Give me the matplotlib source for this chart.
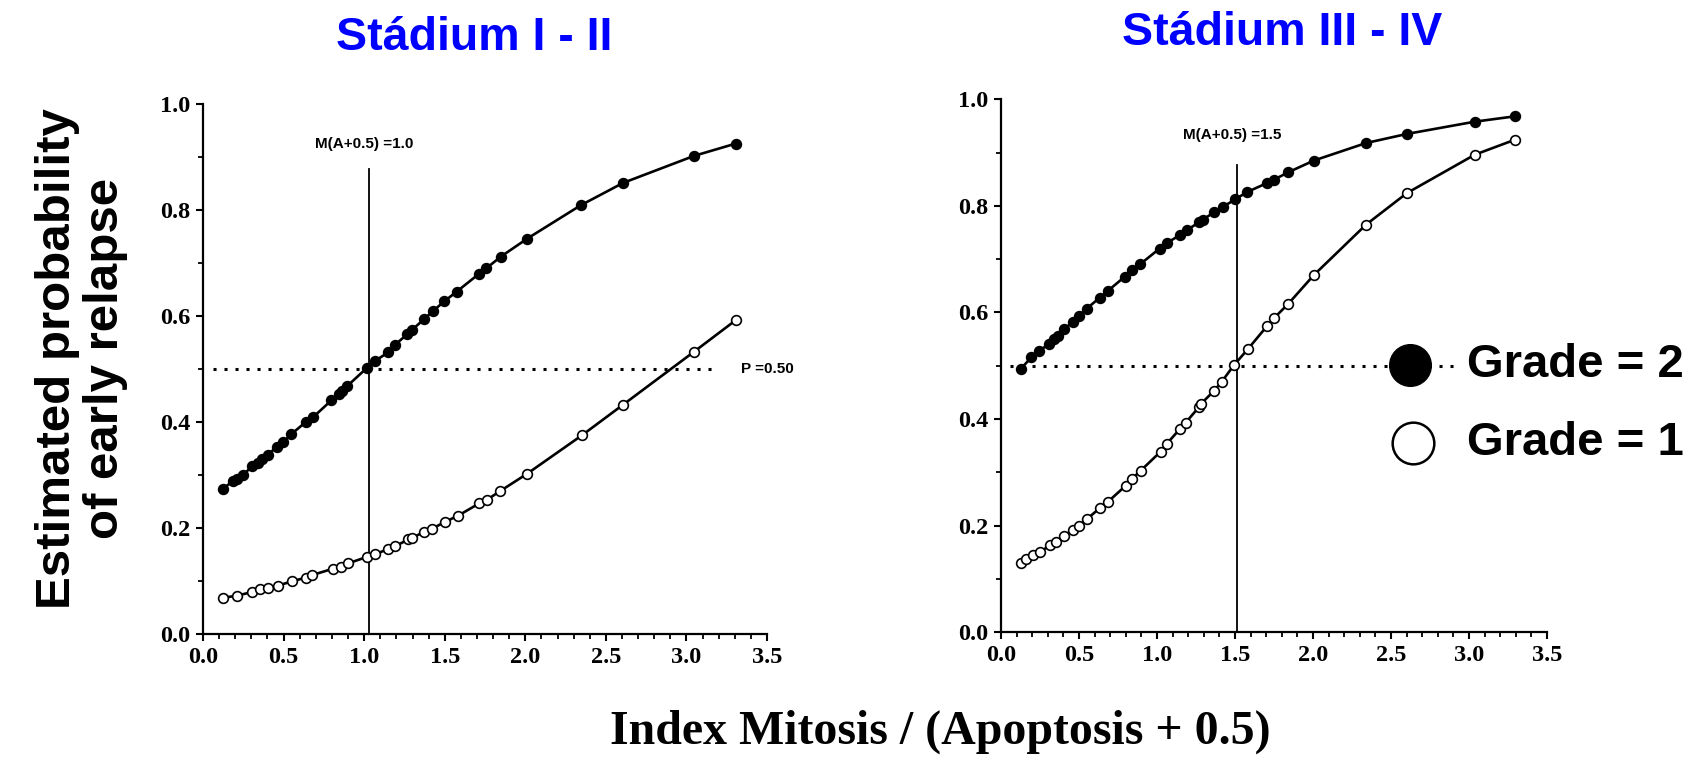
import numpy as np
import matplotlib.pyplot as plt
from matplotlib.ticker import MultipleLocator

plt.rcParams['font.family'] = ['Liberation Sans', 'DejaVu Sans']

# Stadium I - II, grade 2 (filled) and grade 1 (open)
x_a_g2 = [0.122, 0.184, 0.208, 0.245, 0.306, 0.343, 0.367, 0.404, 0.458, 0.497,
          0.546, 0.636, 0.685, 0.796, 0.845, 0.864, 0.894, 1.016, 1.065, 1.151,
          1.192, 1.268, 1.297, 1.371, 1.425, 1.498, 1.574, 1.714, 1.758, 1.848,
          2.012, 2.345, 2.607, 3.048, 3.305]
p_a_g2 = [0.274, 0.289, 0.293, 0.300, 0.317, 0.323, 0.330, 0.339, 0.354, 0.362,
          0.377, 0.400, 0.410, 0.441, 0.453, 0.458, 0.468, 0.502, 0.515, 0.532,
          0.546, 0.566, 0.574, 0.594, 0.609, 0.628, 0.646, 0.680, 0.690, 0.712,
          0.746, 0.809, 0.851, 0.902, 0.925]
x_a_g1 = [0.122, 0.208, 0.306, 0.355, 0.404, 0.465, 0.551, 0.636, 0.678, 0.808,
          0.857, 0.901, 1.016, 1.065, 1.151, 1.192, 1.273, 1.297, 1.371, 1.420,
          1.501, 1.584, 1.714, 1.763, 1.843, 2.012, 2.350, 2.607, 3.048, 3.305]
p_a_g1 = [0.069, 0.073, 0.080, 0.086, 0.088, 0.092, 0.100, 0.107, 0.112, 0.124,
          0.127, 0.134, 0.146, 0.151, 0.161, 0.166, 0.179, 0.182, 0.193, 0.199,
          0.212, 0.224, 0.247, 0.254, 0.270, 0.303, 0.375, 0.433, 0.533, 0.592]

# Stadium III - IV
x_b_g2 = [0.127, 0.195, 0.244, 0.310, 0.341, 0.366, 0.402, 0.463, 0.500, 0.549,
          0.634, 0.683, 0.793, 0.841, 0.890, 1.017, 1.061, 1.146, 1.190, 1.268,
          1.293, 1.366, 1.422, 1.500, 1.578, 1.707, 1.749, 1.841, 2.005, 2.341,
          2.602, 3.037, 3.293]
p_b_g2 = [0.494, 0.516, 0.528, 0.541, 0.550, 0.556, 0.568, 0.583, 0.594, 0.607,
          0.628, 0.640, 0.667, 0.680, 0.690, 0.720, 0.730, 0.745, 0.754, 0.769,
          0.774, 0.788, 0.798, 0.812, 0.826, 0.843, 0.849, 0.863, 0.885, 0.918,
          0.935, 0.958, 0.968]
x_b_g1 = [0.127, 0.159, 0.207, 0.251, 0.317, 0.354, 0.402, 0.463, 0.500, 0.554,
          0.634, 0.683, 0.800, 0.841, 0.895, 1.024, 1.061, 1.146, 1.183, 1.268,
          1.280, 1.366, 1.415, 1.493, 1.582, 1.707, 1.749, 1.841, 2.005, 2.341,
          2.602, 3.037, 3.293]
p_b_g1 = [0.129, 0.138, 0.144, 0.151, 0.163, 0.170, 0.181, 0.191, 0.200, 0.213,
          0.233, 0.244, 0.275, 0.288, 0.303, 0.339, 0.353, 0.381, 0.393, 0.422,
          0.428, 0.453, 0.470, 0.501, 0.531, 0.575, 0.589, 0.616, 0.670, 0.765,
          0.824, 0.896, 0.924]

titles = ['Stádium I - II', 'Stádium III - IV']
cutoffs = [1.03, 1.51]
cutoff_labels = ['M(A+0.5) =1.0', 'M(A+0.5) =1.5']
p_ref = 0.5

fig = plt.figure(figsize=(16.92, 7.58), dpi=100)
ax1 = fig.add_axes([0.120, 0.163, 0.3333, 0.700])
ax2 = fig.add_axes([0.5916, 0.166, 0.3227, 0.703])

serif = ['Liberation Serif', 'DejaVu Serif']
narrow = ['Liberation Sans Narrow', 'Liberation Sans', 'DejaVu Sans']

panels = [(ax1, x_a_g2, p_a_g2, x_a_g1, p_a_g1), (ax2, x_b_g2, p_b_g2, x_b_g1, p_b_g1)]
for i, (ax, xf, pf, xo, po) in enumerate(panels):
    for xs, ps, face in [(xo, po, 'white'), (xf, pf, 'black')]:
        xs = np.array(xs); ps = np.array(ps)
        o = np.argsort(xs)
        ax.plot(xs[o], ps[o], color='black', lw=1.9, zorder=3, clip_on=False)
        ax.plot(xs[o], ps[o], 'o', ms=7, mfc=face, mec='black', mew=1.2,
                ls='none', zorder=4, clip_on=False)

    ax.plot([cutoffs[i], cutoffs[i]], [0, 0.877], color='black', lw=1.3, zorder=2)
    ax.text(cutoffs[i] - 0.03, 0.925 if i == 0 else 0.933, cutoff_labels[i],
            ha='center', va='center', fontsize=11, fontweight='bold', family=narrow)

    ax.set_xlim(0, 3.5)
    ax.set_ylim(0, 1.0)
    ax.xaxis.set_major_locator(MultipleLocator(0.5))
    ax.xaxis.set_minor_locator(MultipleLocator(0.1))
    ax.yaxis.set_major_locator(MultipleLocator(0.2))
    ax.yaxis.set_minor_locator(MultipleLocator(0.1))
    ax.set_xticklabels([f'{v:.1f}' for v in ax.get_xticks()])
    ax.set_yticklabels([f'{v:.1f}' for v in ax.get_yticks()])
    for lab in ax.get_xticklabels() + ax.get_yticklabels():
        lab.set_family(serif)
        lab.set_fontweight('bold')
        lab.set_fontsize(17.5)
    ax.tick_params(which='major', direction='out', length=5, width=1.5, pad=4)
    ax.tick_params(which='minor', direction='out', length=3.5, width=1.3)
    for s in ['top', 'right']:
        ax.spines[s].set_visible(False)
    for s in ['left', 'bottom']:
        ax.spines[s].set_linewidth(1.6)

fig.text(0.2803, 0.934, titles[0], color='#0000ff', fontsize=33.5, fontweight='bold',
         ha='center', va='baseline')
fig.text(0.7577, 0.9406, titles[1], color='#0000ff', fontsize=33.5, fontweight='bold',
         ha='center', va='baseline')

# reference line p = 0.50
ax1.plot([0.06, 3.18], [p_ref, p_ref], color='black', lw=2.2, ls=(0, (1, 2.6)), zorder=1)
ax1.text(3.34, p_ref, 'P =0.50', ha='left', va='center', fontsize=11, fontweight='bold',
         clip_on=False)
ax2.plot([0.06, 2.93], [p_ref, p_ref], color='black', lw=2.2, ls=(0, (1, 2.6)), zorder=1)

# legend drawn as marks and text
ax2.plot([2.62], [0.501], 'o', ms=30, mfc='black', mec='black', clip_on=False, zorder=5)
ax2.plot([2.64], [0.355], 'o', ms=30, mfc='white', mec='black', mew=1.8, clip_on=False, zorder=5)
ax2.text(2.99, 0.501, 'Grade = 2', ha='left', va='center', fontsize=34, fontweight='bold',
         clip_on=False)
ax2.text(2.99, 0.355, 'Grade = 1', ha='left', va='center', fontsize=34, fontweight='bold',
         clip_on=False)

fig.text(0.048, 0.527, 'Estimated probability\nof early relapse', rotation=90,
         ha='center', va='center', fontsize=35.5, fontweight='bold', linespacing=1.08)
fig.text(0.556, 0.035, 'Index Mitosis / (Apoptosis + 0.5)', ha='center', va='center',
         fontsize=34.5, fontweight='bold', family=serif)

fig.savefig('out.png', dpi=100)
